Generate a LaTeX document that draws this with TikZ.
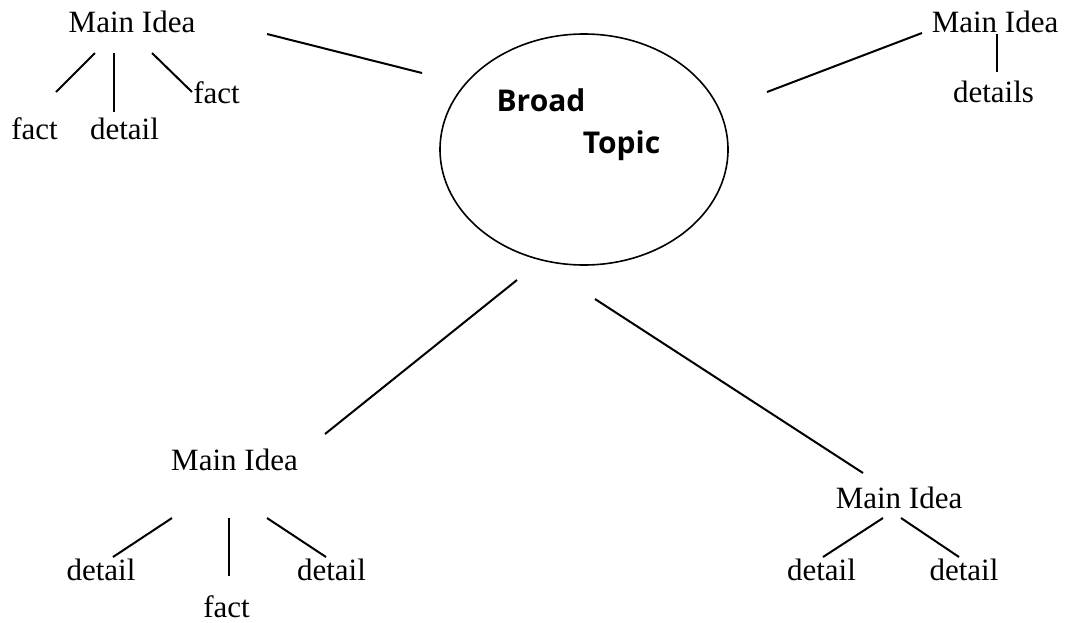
\documentclass[tikz,border=0pt]{standalone}
\usepackage{fontspec}
\setmainfont{Liberation Serif}
\newfontfamily\topicfont{Open Sans}
\usetikzlibrary{shapes.geometric}
\begin{document}
\begin{tikzpicture}[x=1pt,y=-1pt,
  lbl/.style={anchor=base,inner sep=0pt,font=\fontsize{31}{37}\selectfont},
  ttl/.style={anchor=base,inner sep=0pt,font=\topicfont\bfseries\fontsize{30}{36}\selectfont},
  conn/.style={line width=2pt,black},
  bubble/.style={draw,ellipse,line width=1.6pt,minimum width=288pt,minimum height=231pt,inner sep=0pt}]
\useasboundingbox (0,0) rectangle (1067,622);
% central topic
\node[bubble] (topic) at (584,149.5) {};
\node[ttl] (broad) at (541,111) {Broad};
\node[ttl] (topicw) at (621.5,153) {Topic};
% top-left group
\node[lbl] (mi1) at (132,32) {Main Idea};
\node[lbl] (f1) at (34.5,139) {fact};
\node[lbl] (d1) at (124.5,139) {detail};
\node[lbl] (f2) at (216.5,103) {fact};
% top-right group
\node[lbl] (mi2) at (995,32) {Main Idea};
\node[lbl] (d2) at (993.5,102) {details};
% bottom-left group
\node[lbl] (mi3) at (234.5,470) {Main Idea};
\node[lbl] (d3a) at (101,580) {detail};
\node[lbl] (f3) at (226.5,617) {fact};
\node[lbl] (d3b) at (331.5,580) {detail};
% bottom-right group
\node[lbl] (mi4) at (899,508) {Main Idea};
\node[lbl] (d4a) at (821.5,580) {detail};
\node[lbl] (d4b) at (964,580) {detail};
% connector end points
\coordinate (a1) at (267,34);  \coordinate (a2) at (422,73);
\coordinate (b1) at (767,92);  \coordinate (b2) at (922,33);
\coordinate (c1) at (325,434); \coordinate (c2) at (517,280);
\coordinate (e1) at (595,299); \coordinate (e2) at (863,473);
\coordinate (t1a) at (56,92);  \coordinate (t1b) at (95,53);
\coordinate (t2a) at (114,53); \coordinate (t2b) at (114,112);
\coordinate (t3a) at (152,53); \coordinate (t3b) at (192,92);
\coordinate (r1a) at (997,34); \coordinate (r1b) at (997,72);
\coordinate (l1a) at (113,557); \coordinate (l1b) at (172,518);
\coordinate (l2a) at (229,518); \coordinate (l2b) at (229,576);
\coordinate (l3a) at (267,518); \coordinate (l3b) at (326,557);
\coordinate (m1a) at (823,557); \coordinate (m1b) at (883,518);
\coordinate (m2a) at (901,518); \coordinate (m2b) at (959,557);
% connectors
\draw[conn] (a1) -- (a2);
\draw[conn] (b1) -- (b2);
\draw[conn] (c1) -- (c2);
\draw[conn] (e1) -- (e2);
\draw[conn] (t1a) -- (t1b);
\draw[conn] (t2a) -- (t2b);
\draw[conn] (t3a) -- (t3b);
\draw[conn] (r1a) -- (r1b);
\draw[conn] (l1a) -- (l1b);
\draw[conn] (l2a) -- (l2b);
\draw[conn] (l3a) -- (l3b);
\draw[conn] (m1a) -- (m1b);
\draw[conn] (m2a) -- (m2b);
\end{tikzpicture}
\end{document}
